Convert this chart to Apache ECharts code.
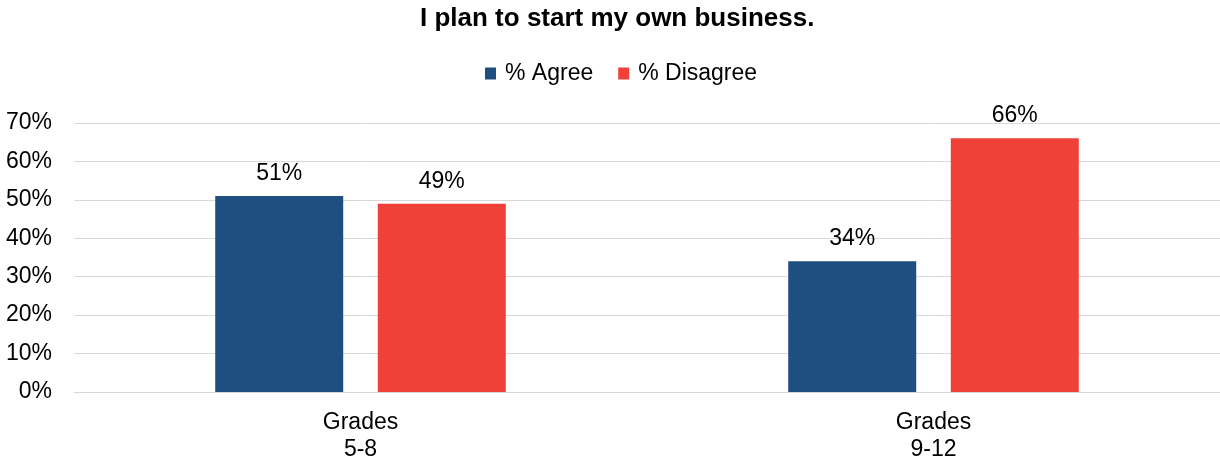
<!DOCTYPE html>
<html>
<head>
<meta charset="utf-8">
<script src="https://cdn.jsdelivr.net/npm/echarts@6/dist/echarts.min.js"></script>
<style>
  html, body { margin: 0; padding: 0; background: #fff; }
  #chart { width: 1220px; height: 463px; }
</style>
</head>
<body>
<div id="chart"></div>
<script>
// Survey responses by grade band
const categories = ['Grades\n5-8', 'Grades\n9-12'];
const agree = [51, 34];
const disagree = [49, 66];
const seriesNames = ['% Agree', '% Disagree'];

const FONT = '"Liberation Sans", Arial, sans-serif';
const chart = echarts.init(document.getElementById('chart'));

const labelStyle = {
  show: true,
  position: 'top',
  distance: 11,
  formatter: p => p.value + '%',
  color: '#000',
  fontSize: 23,
  fontFamily: FONT
};

chart.setOption({
  animation: false,
  title: {
    text: 'I plan to start my own business.',
    left: 420,
    top: 6,
    padding: 0,
    textStyle: { fontFamily: FONT, fontSize: 26, fontWeight: 'bold', color: '#000' }
  },
  legend: {
    top: 62,
    left: 485,
    padding: 0,
    itemWidth: 11,
    itemHeight: 12,
    itemGap: 25,
    icon: 'rect',
    textStyle: { fontFamily: FONT, fontSize: 23, color: '#000', padding: [0, 0, 0, 4] },
    data: seriesNames
  },
  grid: { left: 74, right: 0, top: 123, bottom: 71, containLabel: false },
  xAxis: {
    type: 'category',
    data: categories,
    axisLine: { lineStyle: { color: '#d9d9d9', width: 1 } },
    axisTick: { show: false },
    axisLabel: {
      fontFamily: FONT, fontSize: 23, color: '#000',
      lineHeight: 27, margin: 17
    }
  },
  yAxis: {
    type: 'value',
    min: 0,
    max: 70,
    interval: 10,
    axisLine: { show: false },
    axisTick: { show: false },
    splitLine: { lineStyle: { color: '#d9d9d9', width: 1 } },
    axisLabel: {
      formatter: '{value}%',
      fontFamily: FONT, fontSize: 23, color: '#000', margin: 22,
      padding: [4, 0, 0, 0]
    }
  },
  series: [
    {
      name: seriesNames[0],
      type: 'bar',
      data: agree,
      barWidth: 128,
      barGap: '27%',
      itemStyle: { color: '#1f4e80' },
      label: labelStyle
    },
    {
      name: seriesNames[1],
      type: 'bar',
      data: disagree,
      barWidth: 128,
      itemStyle: { color: '#ef4137' },
      label: labelStyle
    }
  ]
});
</script>
</body>
</html>
